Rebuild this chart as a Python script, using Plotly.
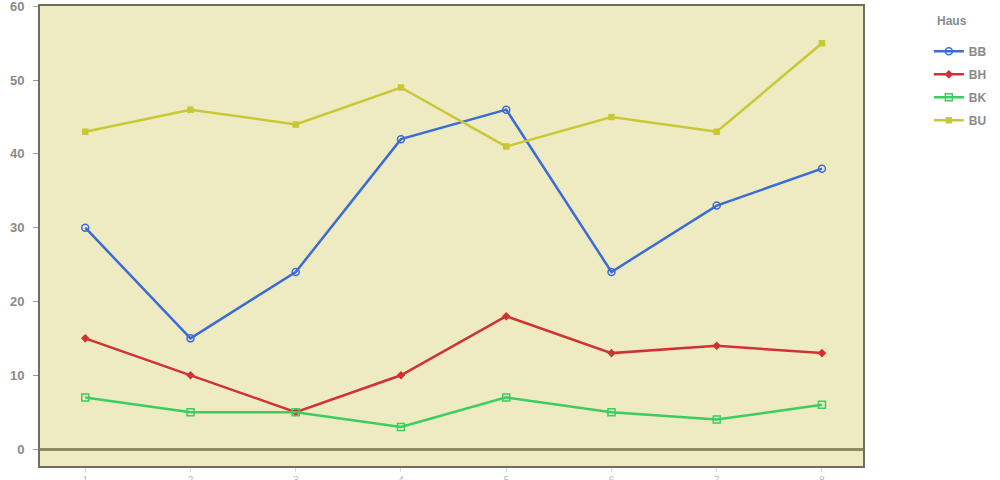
import plotly.graph_objects as go

categories = ["1", "2", "3", "4", "5", "6", "7", "8"]
bb = [30, 15, 24, 42, 46, 24, 33, 38]
bh = [15, 10, 5, 10, 18, 13, 14, 13]
bk = [7, 5, 5, 3, 7, 5, 4, 6]
bu = [43, 46, 44, 49, 41, 45, 43, 55]
y_ticks = [0, 10, 20, 30, 40, 50, 60]
y_tick_labels = ["<b>%d</b>" % v for v in y_ticks]

series = [
    ("BB", bb, "#3B6BD6", "circle-open", 7),
    ("BH", bh, "#D03232", "diamond", 5),
    ("BK", bk, "#3DCC5E", "square-open", 7),
    ("BU", bu, "#C9C834", "square", 5),
]

fig = go.Figure()
for name, vals, color, sym, size in series:
    fig.add_trace(go.Scatter(
        x=categories, y=vals, name="<b>%s</b>" % name, mode="lines+markers",
        legendgroup=name,
        line=dict(color=color, width=2.5),
        marker=dict(symbol=sym, size=size, color=color, line=dict(color=color, width=1.5)),
    ))

fig.add_annotation(
    text="<b>Haus</b>", xref="paper", yref="paper", x=1.088, y=0.967,
    xanchor="left", yanchor="middle", showarrow=False,
    font=dict(size=12, color="#8A8A8A"),
)

fig.update_layout(
    width=1000, height=480,
    margin=dict(l=40, r=137, t=6, b=14, autoexpand=False),
    paper_bgcolor="white",
    plot_bgcolor="#EEEBC3",
    font=dict(family="Liberation Sans, Arial, sans-serif", color="#8A8A8A"),
    showlegend=True,
    legend=dict(
        x=1.08, y=0.933, xanchor="left", yanchor="top",
        font=dict(size=12, color="#8A8A8A"),
        bgcolor="rgba(0,0,0,0)",
        traceorder="grouped",
        tracegroupgap=4,
    ),
)
fig.update_xaxes(
    type="category", range=[-0.43, 7.39], automargin=False,
    showgrid=False, zeroline=False,
    showline=True, linecolor="#6E6E60", linewidth=2, mirror=True,
    ticks="outside", ticklen=4, tickcolor="#DDDDDD",
    tickfont=dict(size=10, color="#BBBBBB"),
)
fig.update_yaxes(
    range=[-2.3, 60.05], tickvals=y_ticks, ticktext=y_tick_labels, automargin=False,
    ticklabeloverflow="allow", ticklabelstandoff=6,
    showgrid=False,
    zeroline=True, zerolinecolor="#8E8A62", zerolinewidth=3,
    showline=True, linecolor="#6E6E60", linewidth=2, mirror=True,
    ticks="outside", ticklen=5, tickcolor="#999999",
    tickfont=dict(size=13, color="#8A8A8A", family="Liberation Sans, Arial, sans-serif"),
)

fig.write_html("out.html", config={"displayModeBar": False},
               post_script="document.body.style.margin='0';")
